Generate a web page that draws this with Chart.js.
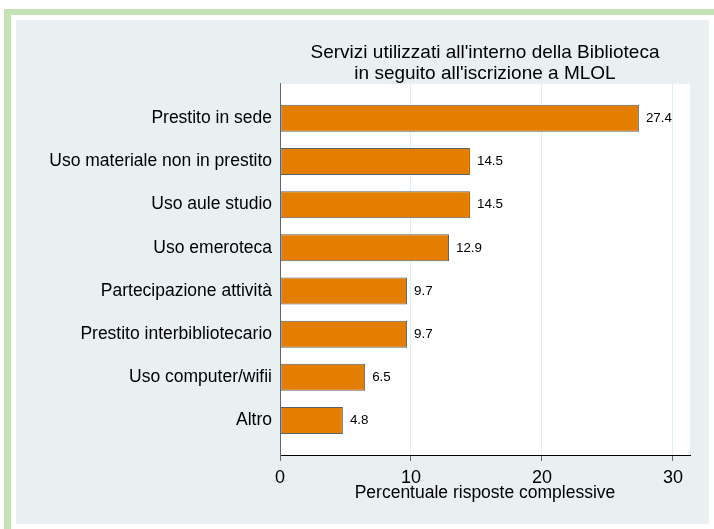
<!DOCTYPE html>
<html><head><meta charset="utf-8">
<script src="https://cdn.jsdelivr.net/npm/chart.js@4.4.1/dist/chart.umd.min.js"></script>
<style>html,body{margin:0;padding:0;background:#fff}#wrap{width:714px;height:529px}</style>
</head><body><div id="wrap"><canvas id="c" width="714" height="529"></canvas></div>
<script>
const categories = ["Prestito in sede","Uso materiale non in prestito","Uso aule studio","Uso emeroteca","Partecipazione attività","Prestito interbibliotecario","Uso computer/wifii","Altro"];
const values = [27.4,14.5,14.5,12.9,9.7,9.7,6.5,4.8];
const xTicks = [0,10,20,30];
const titleLines = ["Servizi utilizzati all'interno della Biblioteca","in seguito all'iscrizione a MLOL"];
const xAxisTitle = "Percentuale risposte complessive";

const FONT = '"Liberation Sans", Arial, sans-serif';

const bgPlugin = {
  id: 'bg',
  beforeDraw(chart) {
    const ctx = chart.ctx, a = chart.chartArea;
    ctx.save();
    ctx.fillStyle = '#ffffff'; ctx.fillRect(0,0,714,529);
    ctx.fillStyle = '#c5e1b6'; ctx.fillRect(4,9,710,520);
    ctx.fillStyle = '#ffffff'; ctx.fillRect(11,15,703,514);
    ctx.fillStyle = '#e8f0f2'; ctx.fillRect(16,20,693,504);
    ctx.fillStyle = '#ffffff'; ctx.fillRect(a.left,a.top,a.right-a.left,a.bottom-a.top);
    ctx.restore();
  }
};
const valuePlugin = {
  id: 'vals',
  afterDatasetsDraw(chart) {
    const ctx = chart.ctx;
    const meta = chart.getDatasetMeta(0);
    ctx.save();
    ctx.font = '13.4px ' + FONT;
    ctx.fillStyle = '#000';
    ctx.textAlign = 'left';
    ctx.textBaseline = 'middle';
    meta.data.forEach((bar, i) => {
      ctx.fillText(values[i].toFixed(1), bar.x + 7, bar.y);
    });
    ctx.restore();
  }
};

new Chart(document.getElementById('c'), {
  type: 'bar',
  data: {
    datasets: [{
      data: values.map((v,i)=>({x:v,y:i})),
      backgroundColor: '#e37e00',
      borderColor: '#56636f',
      borderWidth: 1,
      borderSkipped: false,
      barPercentage: 0.625,
      categoryPercentage: 1
    }]
  },
  options: {
    indexAxis: 'y',
    responsive: false,
    animation: false,
    layout: { padding: { top: 42, right: 24, bottom: 0, left: 0 } },
    plugins: {
      legend: { display: false },
      tooltip: { enabled: false },
      title: {
        display: true, text: titleLines, fullSize: false,
        color: '#000', padding: 0,
        font: { family: FONT, size: 19, weight: 'normal', lineHeight: 1.1 }
      }
    },
    scales: {
      x: {
        type: 'linear', min: 0, max: 31.3,
        afterBuildTicks(s) { s.ticks = xTicks.map(v=>({value:v})); },
        afterFit(s) { s.height = 74; },
        grid: { color: '#e3ecf0', tickColor: '#666', tickLength: 6, lineWidth: 1 },
        border: { display: true, color: '#000', width: 1 },
        ticks: { color: '#000', padding: 6, font: { family: FONT, size: 18 } },
        title: { display: true, text: xAxisTitle, color: '#000', padding: { top: 0, bottom: 25 }, font: { family: FONT, size: 17.5, lineHeight: 1.2 } }
      },
      y: {
        type: 'linear', min: -0.8, max: 7.8, reverse: true, offset: false,
        afterBuildTicks(s) { s.ticks = categories.map((_,i)=>({value:i})); },
        afterFit(s) { s.width = 280; },
        grid: { display: false, drawTicks: false, offset: false },
        border: { display: true, color: '#666', width: 1 },
        ticks: { autoSkip: false, color: '#000', padding: 8, font: { family: FONT, size: 17.5 },
          callback: (v) => categories[v] }
      }
    }
  },
  plugins: [bgPlugin, valuePlugin]
});
</script></body></html>
